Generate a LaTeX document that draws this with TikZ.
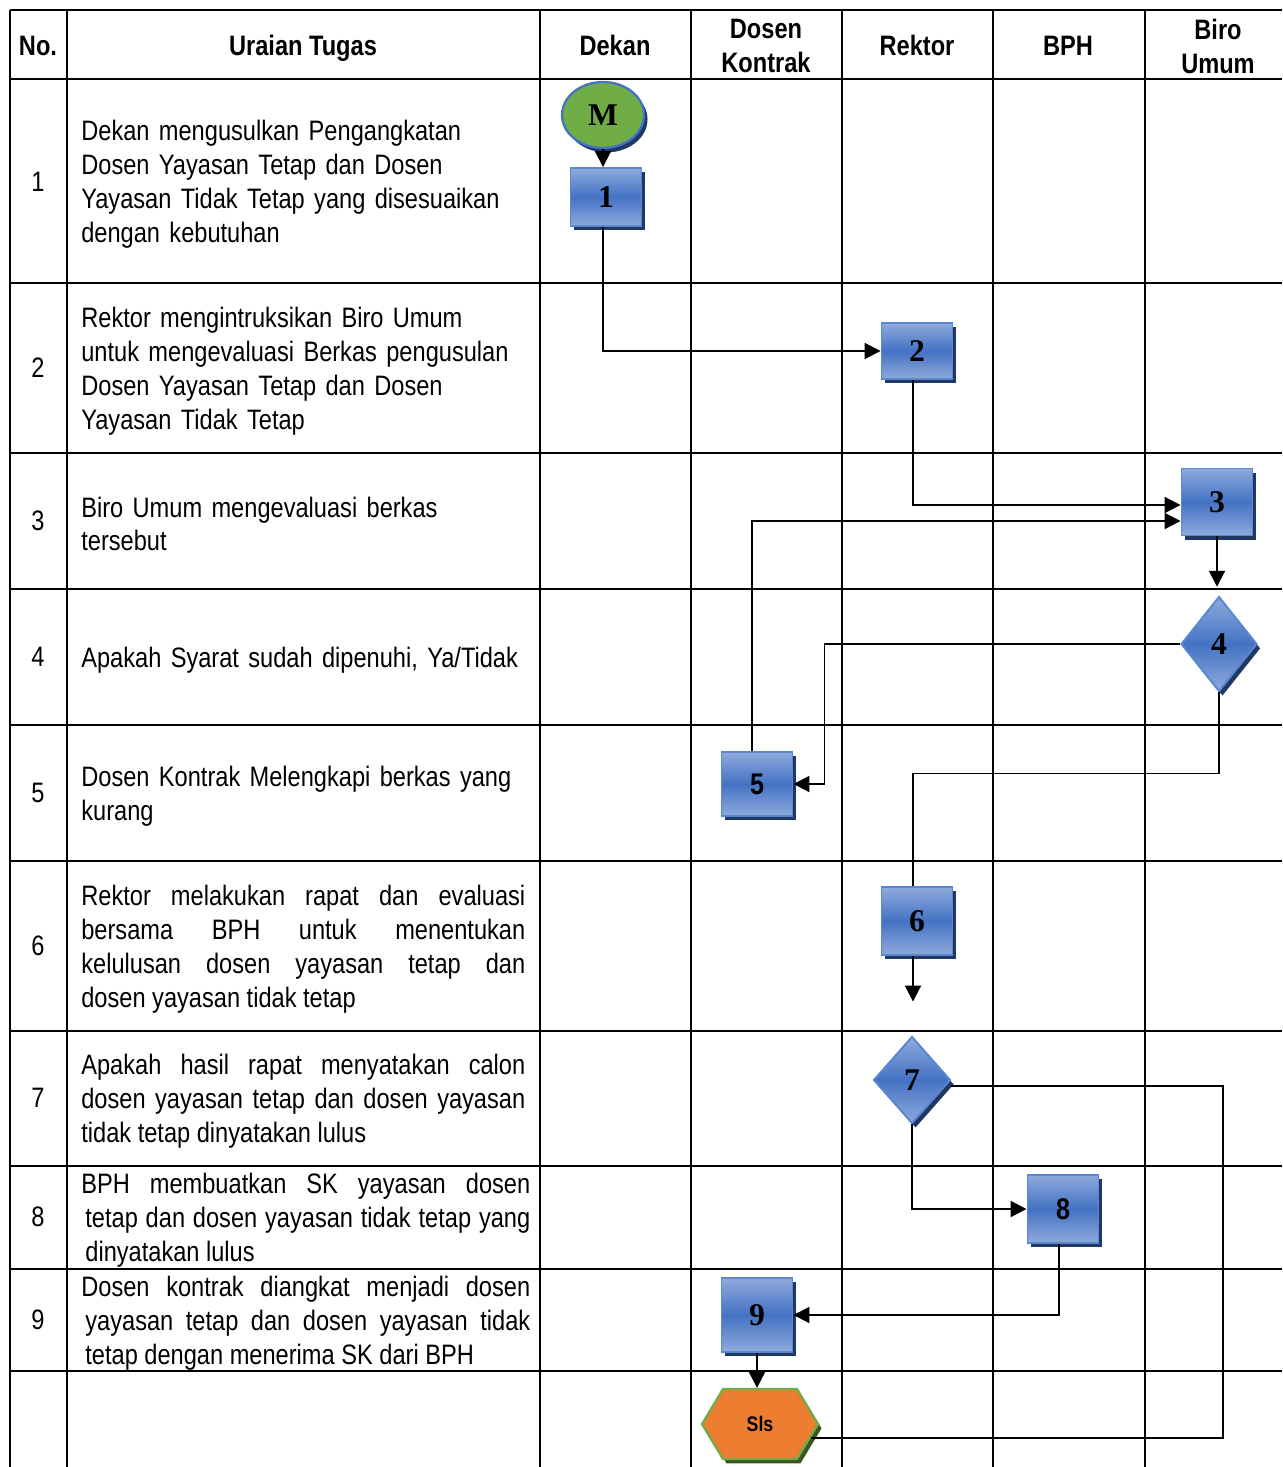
\documentclass[tikz,border=0pt]{standalone}
\usepackage{fontspec}
\setmainfont[FakeStretch=0.84]{Liberation Sans}
\newfontfamily\numfont{Liberation Serif}
\usepackage{tikz}
\usetikzlibrary{arrows.meta,calc,shapes.geometric,shapes.symbols,shadows}
\definecolor{boxmid}{HTML}{4472C4}
\definecolor{boxlight}{HTML}{8FAADC}
\definecolor{boxedge}{HTML}{5B86D0}
\definecolor{boxshade}{HTML}{1F3864}
\definecolor{startgreen}{HTML}{70AD47}
\definecolor{endorange}{HTML}{ED7D31}
\definecolor{endshade}{HTML}{385723}

\begin{document}
\begin{tikzpicture}[
x=0.02cm,y=-0.02cm,
grid/.style={line width=1.6pt},
lbl/.style={font=\fontsize{16}{19.3}\selectfont},
hdr/.style={font=\fontsize{16}{19.3}\selectfont\bfseries,align=center},
desc/.style={lbl,anchor=west,text width=8.88cm,align=left,inner sep=0pt,yshift=-1.7pt},
jdesc/.style={desc,align=justify},
shade/.style={drop shadow={shadow xshift=2pt,shadow yshift=-2.5pt,fill=#1,opacity=1}},
proc/.style={draw=boxedge,line width=1.1pt,top color=boxlight,bottom color=boxlight,middle color=boxmid,
  minimum width=1.42cm,inner sep=0pt,font=\numfont\fontsize{18}{18}\selectfont\bfseries,shade=boxshade},
sproc/.style={proc,font=\fontsize{17}{17}\selectfont\bfseries},
dec/.style={proc,diamond},
arr/.style={-{Triangle[length=9pt,width=9pt]},line width=1.1pt},
ln/.style={line width=1.1pt}
]
\useasboundingbox (0,0) rectangle (1282,1467);

% table
\foreach \x in {10,67,540,691,842,993,1145}
  \draw[grid] (\x,10) -- (\x,1467);
\foreach \y in {10,79,283,453,589,725,861,1031,1166,1269,1371}
  \draw[grid] (10,\y) -- (1282,\y);

% header
\node[hdr,anchor=base] (hno) at (38,55) {No.};
\node[hdr,anchor=base] (hurai) at (303,55) {Uraian Tugas};
\node[hdr,anchor=base] (hdekan) at (615,55) {Dekan};
\node[hdr] (hdosen) at (766,46) {Dosen\\Kontrak};
\node[hdr,anchor=base] (hrektor) at (917,55) {Rektor};
\node[hdr,anchor=base] (hbph) at (1068,55) {BPH};
\node[hdr] (hbiro) at (1218,46) {Biro\\Umum};

% row numbers
\foreach \n/\y in {1/182,2/368,3/521,4/657,5/793,6/946,7/1098,8/1217,9/1320}
  \node[lbl] (no\n) at (38,\y) {\n};

% descriptions
\node[desc] (t1) at (81,181) {Dekan mengusulkan Pengangkatan\\Dosen Yayasan Tetap dan Dosen\\Yayasan Tidak Tetap yang disesuaikan\\dengan kebutuhan};
\node[desc] (t2) at (81,368) {Rektor mengintruksikan Biro Umum\\untuk mengevaluasi Berkas pengusulan\\Dosen Yayasan Tetap dan Dosen\\Yayasan Tidak Tetap};
\node[desc] (t3) at (81,521) {Biro Umum mengevaluasi berkas\\tersebut};
\node[desc] (t4) at (81,657) {Apakah Syarat sudah dipenuhi, Ya/Tidak};
\node[desc] (t5) at (81,793) {Dosen Kontrak Melengkapi berkas yang\\kurang};
\node[jdesc] (t6) at (81,946) {Rektor melakukan rapat dan evaluasi\linebreak bersama BPH untuk menentukan\linebreak kelulusan dosen yayasan tetap dan\linebreak dosen yayasan tidak tetap};
\node[jdesc] (t7) at (81,1098) {Apakah hasil rapat menyatakan calon\linebreak dosen yayasan tetap dan dosen yayasan\linebreak tidak tetap dinyatakan lulus};
\node[jdesc,text width=8.98cm] (t8) at (81,1217) {BPH membuatkan SK yayasan dosen\linebreak\hspace*{2.3pt}tetap dan dosen yayasan tidak tetap yang\linebreak\hspace*{2.3pt}dinyatakan lulus};
\node[jdesc,text width=8.98cm] (t9) at (81,1320) {Dosen kontrak diangkat menjadi dosen\linebreak\hspace*{2.3pt}yayasan tetap dan dosen yayasan tidak\linebreak\hspace*{2.3pt}tetap dengan menerima SK dari BPH};

% flow
\node[ellipse,draw=boxmid,line width=1.3pt,fill=startgreen,minimum width=1.64cm,minimum height=1.32cm,
  inner sep=0pt,font=\numfont\fontsize{18}{18}\selectfont\bfseries,shade=boxshade] (m) at (603,115) {M};
\node[proc,minimum height=1.16cm] (s1) at (606,197) {1};
\node[proc,minimum height=1.12cm] (s2) at (917,351) {2};
\node[proc,minimum height=1.34cm] (s3) at (1217,502) {3};
\node[dec,minimum width=1.52cm,minimum height=1.9cm] (d4) at (1219,644) {4};
\node[sproc,minimum height=1.28cm] (s5) at (757,784) {5};
\node[proc,minimum height=1.36cm] (s6) at (917,921) {6};
\node[dec,minimum width=1.54cm,minimum height=1.74cm] (d7) at (912,1080) {7};
\node[sproc,minimum height=1.36cm] (s8) at (1063,1209) {8};
\node[proc,minimum height=1.48cm] (s9) at (757,1315) {9};
\node[signal,signal to=east and west,signal pointer angle=118,draw=startgreen,line width=1.3pt,fill=endorange,
  minimum width=2.32cm,minimum height=1.4cm,inner sep=0pt,font=\fontsize{12}{12}\selectfont\bfseries,shade=endshade] (sls) at (760,1424) {Sls};

\draw[arr] (m.south) -- (m.south |- s1.north);
\draw[arr] ($(s1.south)+(-3,0)$) |- (s2.west);
\draw[arr] ($(s2.south)+(-4,0)$) |- ($(s3.west)+(0,3)$);
\draw[arr] ($(s5.north)+(-5,0)$) |- ($(s3.west)+(0,19)$);
\draw[arr,shorten >=5pt] (s3.south) -- (s3.south |- d4.north);
\draw[arr] (d4.west) -| ($(s5.east)+(31,0)$) -- (s5.east);
\draw[ln] (d4.south) -- ++(0,81) -| ($(s6.north)+(-4,0)$);
\draw[arr] ($(s6.south)+(-4,0)$) -- ($(d7.north)+(1,-34)$);
\draw[arr] (d7.south) |- (s8.west);
\draw[ln] ($(d7.east)+(0,6)$) -| ($(sls.east)+(404,14)$) -- ($(sls.east)+(-8,14)$);
\draw[arr] ($(s8.south)+(-4,0)$) |- (s9.east);
\draw[arr] (s9.south) -- (s9.south |- sls.north);
\end{tikzpicture}
\end{document}
